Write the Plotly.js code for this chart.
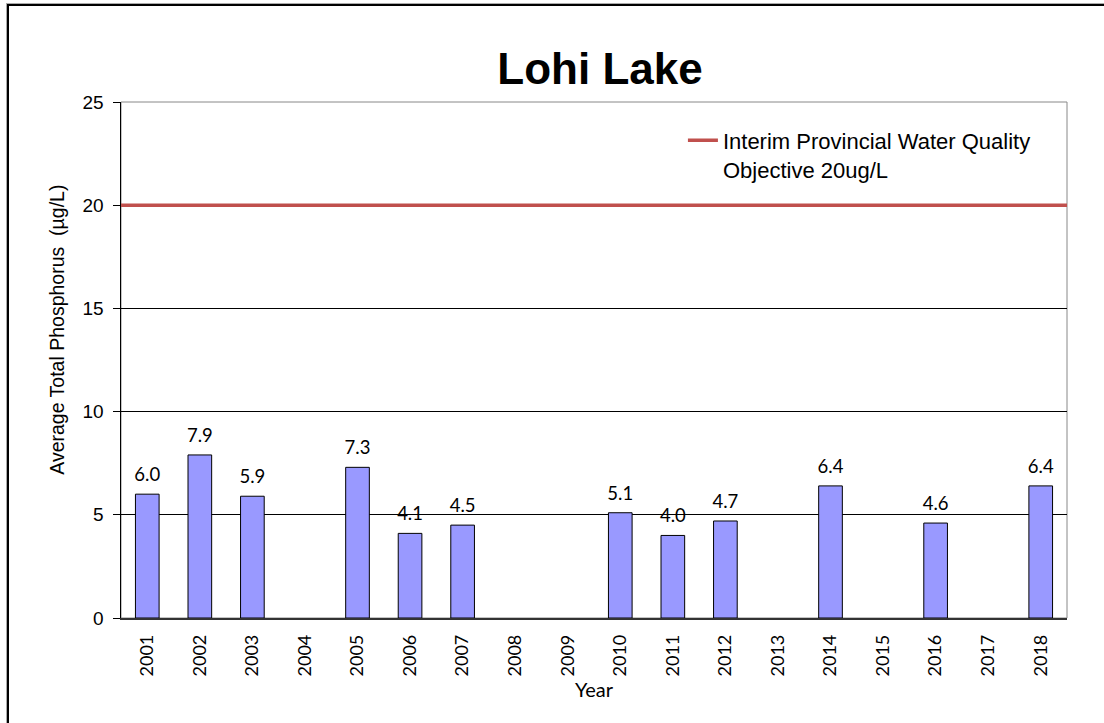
<!DOCTYPE html>
<html>
<head>
<meta charset="utf-8">
<script src="https://cdn.plot.ly/plotly-3.0.1.min.js"></script>
<style>
  html, body { margin: 0; padding: 0; background: #fff; }
  #frame { position: absolute; left: 7px; top: 4px; width: 1200px; height: 800px;
           border-left: 2px solid #000; border-top: 2px solid #000;
           box-shadow: -1px -1px 0 #aaa; }
  #chart { position: absolute; left: 0; top: 0; width: 1104px; height: 723px; }
</style>
</head>
<body>
<div id="frame"></div>
<div id="chart"></div>
<script>
const years = ["2001","2002","2003","2004","2005","2006","2007","2008","2009","2010",
               "2011","2012","2013","2014","2015","2016","2017","2018"];
const phosphorus = [6.0, 7.9, 5.9, null, 7.3, 4.1, 4.5, null, null, 5.1,
                    4.0, 4.7, null, 6.4, null, 4.6, null, 6.4];
const objectiveValue = 20;
const objectiveName = "Interim Provincial Water Quality<br>Objective 20ug/L";
const yTicks = [0, 5, 10, 15, 20, 25];
const yTitle = "Average Total Phosphorus  (µg/L)";

const bodyFont = "Lato, 'Open Sans', sans-serif";
const arialFont = "'Liberation Sans', Arial, sans-serif";

const bars = {
  type: "bar",
  x: years,
  y: phosphorus,
  marker: { color: "#9999FF", line: { color: "#000", width: 1 } },
  width: 0.45,
  showlegend: false,
  hoverinfo: "x+y"
};

const labels = {
  type: "scatter",
  mode: "markers+text",
  x: years,
  y: phosphorus,
  text: phosphorus.map(v => v == null ? "" : v.toFixed(1)),
  textposition: "top center",
  textfont: { family: bodyFont, size: 18.5, color: "#000" },
  marker: { size: 12, opacity: 0 },
  showlegend: false,
  hoverinfo: "skip",
  cliponaxis: false
};

const objective = {
  type: "scatter",
  mode: "lines",
  x: [0, 1],
  y: [objectiveValue, objectiveValue],
  xaxis: "x2",
  line: { color: "#C0504D", width: 3.5 },
  name: objectiveName,
  showlegend: true
};

const layout = {
  width: 1104, height: 723,
  paper_bgcolor: "rgba(0,0,0,0)",
  plot_bgcolor: "#fff",
  margin: { l: 121, r: 37, t: 102, b: 105 },
  title: {
    text: "<b>Lohi Lake</b>",
    font: { family: arialFont, size: 44, color: "#000" },
    x: 0.5435, xanchor: "center", xref: "container",
    y: 0.905, yanchor: "middle", yref: "container"
  },
  xaxis: {
    type: "category",
    categoryarray: years,
    tickangle: -90,
    tickfont: { family: bodyFont, size: 18, color: "#000" },
    ticklabelstandoff: 8,
    showgrid: false,
    showline: true, linecolor: "#333", linewidth: 1.5,
    ticks: "",
    title: { text: "Year", font: { family: bodyFont, size: 20, color: "#000" }, standoff: 7 },
    range: [-0.5, 17.5],
    fixedrange: true
  },
  xaxis2: {
    overlaying: "x", range: [0, 1], visible: false, showgrid: false
  },
  yaxis: {
    range: [0, 25],
    tickvals: yTicks,
    tickfont: { family: arialFont, size: 19, color: "#000" },
    ticklabelstandoff: 5,
    showgrid: true, gridcolor: "#000", gridwidth: 1,
    showline: true, linecolor: "#000", linewidth: 1.5,
    ticks: "outside", ticklen: 7, tickcolor: "#000",
    zeroline: false
  },
  legend: {
    x: 0.594, y: 0.966, xanchor: "left", yanchor: "top",
    valign: "top",
    bgcolor: "rgba(255,255,255,0)",
    font: { family: arialFont, size: 22, color: "#000" }
  },
  annotations: [
    { text: yTitle, xref: "paper", yref: "paper", x: -0.068, y: 0.558,
      xanchor: "center", yanchor: "middle", textangle: -90, showarrow: false,
      font: { family: arialFont, size: 19.5, color: "#000" } }
  ],
  shapes: [
    { type: "rect", xref: "paper", yref: "paper", x0: 0, x1: 1, y0: 0, y1: 1,
      line: { color: "#888", width: 1 }, layer: "below" }
  ],
  bargap: 0.55
};

Plotly.newPlot("chart", [bars, labels, objective], layout, { displayModeBar: false, staticPlot: true });
</script>
</body>
</html>
